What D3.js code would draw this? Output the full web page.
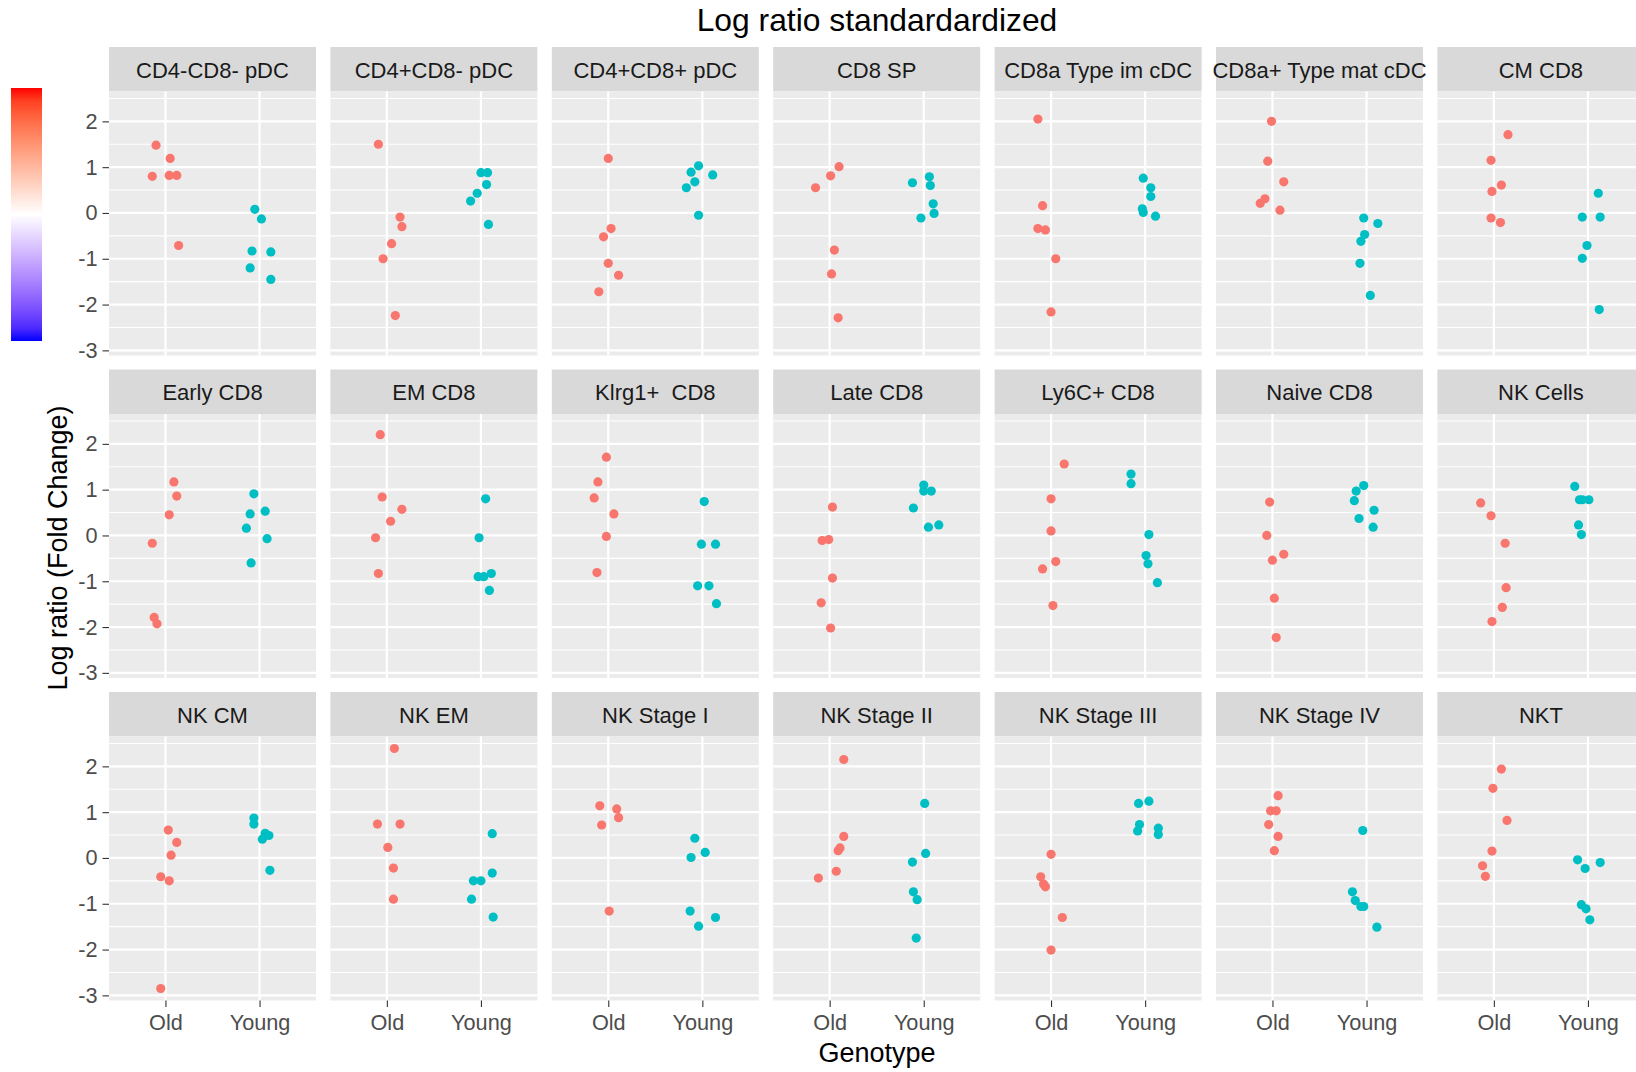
<!DOCTYPE html>
<html>
<head>
<meta charset="utf-8">
<script src="https://cdn.jsdelivr.net/npm/d3@7"></script>
<style>
  body { margin: 0; background: #fff; }
  svg { display: block; font-family: "Liberation Sans", Arial, sans-serif; }
</style>
</head>
<body>
<svg id="chart" width="1636" height="1072"></svg>
<script>
// Cell populations, one facet each (row-major order)
const panels = [
  "CD4-CD8- pDC", "CD4+CD8- pDC", "CD4+CD8+ pDC", "CD8 SP", "CD8a Type im cDC", "CD8a+ Type mat cDC", "CM CD8",
  "Early CD8", "EM CD8", "Klrg1+  CD8", "Late CD8", "Ly6C+ CD8", "Naive CD8", "NK Cells",
  "NK CM", "NK EM", "NK Stage I", "NK Stage II", "NK Stage III", "NK Stage IV", "NKT"
];
const groups = ["Old", "Young"];
const yTicks = [2, 1, 0, -1, -2, -3];
const yMinor = [2.5, 1.5, 0.5, -0.5, -1.5, -2.5];

// Standardized log ratios per panel, Old animals
const oldValues = [
  [1.48, 1.19, 0.80, 0.82, 0.82, -0.71],
  [1.50, -0.09, -0.30, -0.67, -1.00, -2.24],
  [1.19, -0.34, -0.52, -1.10, -1.36, -1.72],
  [1.01, 0.81, 0.55, -0.81, -1.33, -2.29],
  [2.05, 0.16, -0.34, -0.37, -1.00, -2.16],
  [2.00, 1.13, 0.68, 0.31, 0.21, 0.06],
  [1.71, 1.15, 0.61, 0.47, -0.11, -0.21],
  [1.17, 0.86, 0.45, -0.17, -1.79, -1.93],
  [2.20, 0.84, 0.57, 0.31, -0.05, -0.83],
  [1.71, 1.17, 0.82, 0.47, -0.02, -0.81],
  [0.62, -0.11, -0.09, -0.93, -1.47, -2.02],
  [1.56, 0.80, 0.10, -0.57, -0.73, -1.53],
  [0.73, 0.00, -0.41, -0.54, -1.37, -2.23],
  [0.71, 0.43, -0.17, -1.14, -1.57, -1.88],
  [0.61, 0.34, 0.06, -0.41, -0.50, -2.85],
  [2.39, 0.74, 0.74, 0.23, -0.22, -0.90],
  [1.14, 1.07, 0.88, 0.72, -1.16],
  [2.15, 0.47, 0.22, 0.16, -0.29, -0.44],
  [0.08, -0.41, -0.57, -0.63, -1.30, -2.01],
  [1.36, 1.03, 1.03, 0.73, 0.47, 0.16],
  [1.94, 1.52, 0.82, 0.15, -0.17, -0.40]
];

// Standardized log ratios per panel, Young animals
const youngValues = [
  [0.08, -0.13, -0.83, -0.85, -1.20, -1.45],
  [0.88, 0.88, 0.62, 0.43, 0.26, -0.25],
  [1.03, 0.89, 0.83, 0.68, 0.55, -0.05],
  [0.79, 0.66, 0.60, 0.20, -0.01, -0.11],
  [0.76, 0.55, 0.36, 0.09, 0.01, -0.07],
  [-0.11, -0.23, -0.47, -0.62, -1.10, -1.80],
  [0.43, -0.09, -0.09, -0.71, -0.99, -2.11],
  [0.91, 0.53, 0.47, 0.16, -0.07, -0.60],
  [0.80, -0.05, -0.90, -0.90, -0.83, -1.20],
  [0.74, -0.19, -0.19, -1.10, -1.10, -1.49],
  [1.10, 0.97, 0.97, 0.60, 0.18, 0.23],
  [1.34, 1.13, 0.02, -0.44, -0.62, -1.03],
  [1.09, 0.97, 0.76, 0.55, 0.37, 0.18],
  [1.07, 0.78, 0.78, 0.78, 0.23, 0.02],
  [0.87, 0.74, 0.54, 0.49, 0.41, -0.27],
  [0.53, -0.33, -0.50, -0.50, -0.90, -1.29],
  [0.43, 0.12, 0.01, -1.16, -1.30, -1.49],
  [1.19, 0.10, -0.09, -0.74, -0.91, -1.75],
  [1.19, 1.24, 0.73, 0.59, 0.65, 0.51],
  [0.60, -0.74, -0.93, -1.06, -1.06, -1.51],
  [-0.04, -0.10, -0.23, -1.02, -1.11, -1.35]
];

// Horizontal jitter of each observation, in units of the category step
const oldJitter = [
  [-0.10, 0.05, -0.14, 0.04, 0.12, 0.14],
  [-0.09, 0.14, 0.16, 0.05, -0.04, 0.09],
  [0.00, 0.03, -0.05, 0.00, 0.11, -0.10],
  [0.10, 0.01, -0.15, 0.05, 0.02, 0.09],
  [-0.14, -0.09, -0.14, -0.06, 0.05, 0.00],
  [-0.01, -0.05, 0.12, -0.08, -0.13, 0.08],
  [0.15, -0.03, 0.08, -0.02, -0.03, 0.07],
  [0.09, 0.12, 0.04, -0.14, -0.12, -0.09],
  [-0.07, -0.05, 0.16, 0.04, -0.12, -0.09],
  [-0.02, -0.11, -0.15, 0.06, -0.02, -0.12],
  [0.03, -0.08, -0.01, 0.03, -0.09, 0.01],
  [0.14, 0.00, 0.00, 0.05, -0.09, 0.02],
  [-0.03, -0.06, 0.12, 0.00, 0.02, 0.04],
  [-0.14, -0.03, 0.12, 0.13, 0.09, -0.02],
  [0.03, 0.12, 0.06, -0.05, 0.04, -0.05],
  [0.08, -0.10, 0.14, 0.01, 0.07, 0.07],
  [-0.09, 0.09, 0.11, -0.07, 0.01],
  [0.15, 0.15, 0.11, 0.09, 0.07, -0.12],
  [0.00, -0.11, -0.08, -0.06, 0.12, 0.00],
  [0.06, -0.02, 0.04, -0.04, 0.06, 0.02],
  [0.08, -0.01, 0.14, -0.02, -0.12, -0.09]
];
const youngJitter = [
  [-0.05, 0.02, -0.08, 0.12, -0.10, 0.12],
  [0.00, 0.07, 0.06, -0.04, -0.11, 0.08],
  [-0.04, -0.12, 0.11, -0.08, -0.17, -0.04],
  [0.06, -0.12, 0.07, 0.10, 0.11, -0.03],
  [-0.02, 0.06, 0.06, -0.03, -0.02, 0.11],
  [-0.03, 0.12, -0.02, -0.06, -0.07, 0.04],
  [0.11, -0.06, 0.13, -0.01, -0.06, 0.12],
  [-0.06, 0.06, -0.10, -0.14, 0.08, -0.09],
  [0.05, -0.02, -0.03, 0.03, 0.11, 0.09],
  [0.02, -0.01, 0.14, -0.05, 0.07, 0.15],
  [0.00, 0.00, 0.08, -0.11, 0.05, 0.16],
  [-0.15, -0.15, 0.04, 0.01, 0.03, 0.13],
  [-0.03, -0.11, -0.13, 0.08, -0.08, 0.07],
  [-0.14, -0.09, -0.06, 0.01, -0.10, -0.07],
  [-0.06, -0.06, 0.06, 0.10, 0.03, 0.11],
  [0.12, 0.12, -0.08, 0.00, -0.10, 0.13],
  [-0.08, 0.03, -0.12, -0.13, 0.14, -0.04],
  [0.01, 0.02, -0.12, -0.11, -0.07, -0.08],
  [-0.07, 0.04, -0.06, -0.08, 0.14, 0.14],
  [-0.04, -0.15, -0.12, -0.06, -0.03, 0.11],
  [-0.11, 0.13, -0.03, -0.07, -0.02, 0.02]
];

const groupColors = { Old: "#F8766D", Young: "#00BFC4" };

// Facet grid geometry
const nCols = 7;
const panelX0 = 109, pitchX = 221.4, panelW = 207;
const rowY0 = 47, pitchY = 322.5, stripH = 44.5, panelH = 264;

const svg = d3.select("#chart");
svg.append("rect").attr("width", 1636).attr("height", 1072).attr("fill", "#fff");

// Shared y scale, with 5% expansion around the data range
const allVals = oldValues.flat().concat(youngValues.flat());
const [vMin, vMax] = d3.extent(allVals);
const pad = (vMax - vMin) * 0.05;
const y = d3.scaleLinear().domain([vMin - pad, vMax + pad]).range([panelH, 0]);
const x = d3.scalePoint().domain(groups).range([0, panelW]).padding(0.6);
const step = x.step();

const tickFont = 21.7;
const stripFont = 22;

panels.forEach((name, i) => {
  const col = i % nCols, row = Math.floor(i / nCols);
  const gx = panelX0 + col * pitchX;
  const gy = rowY0 + row * pitchY;
  const g = svg.append("g").attr("transform", `translate(${gx},${gy})`);

  // strip
  g.append("rect").attr("width", panelW).attr("height", stripH).attr("fill", "#D9D9D9");
  g.append("text")
    .attr("x", panelW / 2).attr("y", stripH / 2 + 8.6)
    .attr("text-anchor", "middle")
    .attr("font-size", stripFont).attr("fill", "#1A1A1A")
    .style("white-space", "pre")
    .text(name);

  const p = g.append("g").attr("transform", `translate(0,${stripH})`);
  p.append("rect").attr("width", panelW).attr("height", panelH).attr("fill", "#EBEBEB");

  // grid
  p.selectAll(".minor").data(yMinor).join("line")
    .attr("x1", 0).attr("x2", panelW)
    .attr("y1", d => y(d)).attr("y2", d => y(d))
    .attr("stroke", "#fff").attr("stroke-width", 1.1);
  p.selectAll(".major").data(yTicks).join("line")
    .attr("x1", 0).attr("x2", panelW)
    .attr("y1", d => y(d)).attr("y2", d => y(d))
    .attr("stroke", "#fff").attr("stroke-width", 2.2);
  p.selectAll(".vmajor").data(groups).join("line")
    .attr("x1", d => x(d)).attr("x2", d => x(d))
    .attr("y1", 0).attr("y2", panelH)
    .attr("stroke", "#fff").attr("stroke-width", 2.2);

  // points
  const pts = [];
  oldValues[i].forEach((v, k) => pts.push({ g: "Old", v, j: oldJitter[i][k] }));
  youngValues[i].forEach((v, k) => pts.push({ g: "Young", v, j: youngJitter[i][k] }));
  p.selectAll("circle").data(pts).join("circle")
    .attr("cx", d => x(d.g) + d.j * step)
    .attr("cy", d => y(d.v))
    .attr("r", 4.6)
    .attr("fill", d => groupColors[d.g]);

  // y axis on first column
  if (col === 0) {
    const ya = p.append("g").call(d3.axisLeft(y).tickValues(yTicks).tickSize(6.5).tickPadding(5).tickFormat(d => String(d)));
    ya.select(".domain").remove();
    ya.selectAll("line").attr("stroke", "#333333").attr("stroke-width", 1.1);
    ya.selectAll("text").attr("font-size", tickFont).attr("fill", "#4D4D4D")
      .attr("font-family", "Liberation Sans, Arial, sans-serif");
  }
  // x axis on bottom row
  if (row === 2) {
    const xa = p.append("g").attr("transform", `translate(0,${panelH})`)
      .call(d3.axisBottom(x).tickSize(6.5).tickPadding(8));
    xa.select(".domain").remove();
    xa.selectAll("line").attr("stroke", "#333333").attr("stroke-width", 1.1);
    xa.selectAll("text").attr("font-size", tickFont).attr("fill", "#4D4D4D")
      .attr("font-family", "Liberation Sans, Arial, sans-serif");
  }
});

// Title and axis titles
svg.append("text").attr("x", 877).attr("y", 31)
  .attr("text-anchor", "middle").attr("font-size", 31.8).attr("fill", "#000")
  .text("Log ratio standardardized");
svg.append("text").attr("x", 877).attr("y", 1062)
  .attr("text-anchor", "middle").attr("font-size", 27).attr("fill", "#000")
  .text("Genotype");
svg.append("text")
  .attr("transform", "translate(67,548) rotate(-90)")
  .attr("text-anchor", "middle").attr("font-size", 27).attr("fill", "#000")
  .text("Log ratio (Fold Change)");

// Colour bar: red - white - blue diverging gradient
const defs = svg.append("defs");
const grad = defs.append("linearGradient").attr("id", "cbar")
  .attr("x1", 0).attr("y1", 0).attr("x2", 0).attr("y2", 1);
const upper = d3.interpolateLab("#FF0000", "#FFFFFF");
const lower = d3.interpolateLab("#FFFFFF", "#0000FF");
d3.range(0, 1.0001, 0.05).forEach(t => {
  const c = t <= 0.5 ? upper(t / 0.5) : lower((t - 0.5) / 0.5);
  grad.append("stop").attr("offset", t).attr("stop-color", c);
});
svg.append("rect").attr("x", 11).attr("y", 88).attr("width", 31).attr("height", 253)
  .attr("fill", "url(#cbar)");
</script>
</body>
</html>
